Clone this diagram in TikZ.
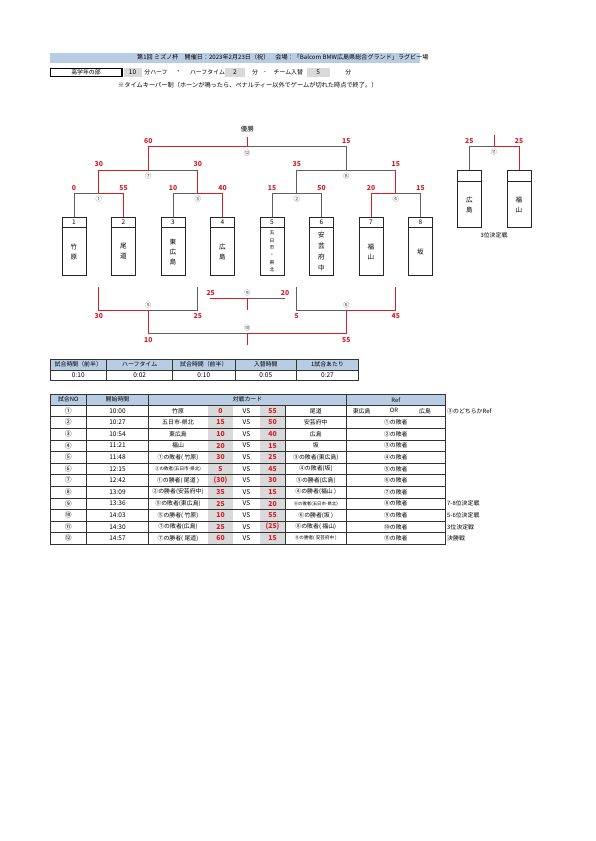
\documentclass[tikz,border=0pt]{standalone}
\usepackage{fontspec}
\setmainfont{Noto Sans CJK JP}
\usetikzlibrary{positioning}
\definecolor{hdrblue}{RGB}{184,204,228}
\definecolor{cellgray}{RGB}{217,217,217}
\definecolor{winred}{RGB}{212,30,40}
\definecolor{linegray}{RGB}{95,95,95}
\newcommand\fs[2]{\fontsize{#1}{#2}\selectfont}
\tikzset{
  gline/.style={draw=linegray, line width=0.7pt},
  rline/.style={draw=winred, line width=1pt},
  tline/.style={draw=black!80, line width=0.5pt},
  score/.style={text=winred, font=\fs{6.8}{7}\bfseries, inner sep=0pt},
  matchno/.style={text=black!70, font=\fs{6.3}{7}, inner sep=0pt},
  txt/.style={font=\fs{5.9}{7}, inner sep=0pt},
  teambox/.style={draw=black!85, line width=0.6pt, minimum width=24pt, minimum height=58pt, inner sep=0pt},
}
\begin{document}
\begin{tikzpicture}[x=1pt, y=-1pt]
		\useasboundingbox (0,0) rectangle (595,841);
		% title band
		\fill[hdrblue] (50,52.5) rectangle (420,62.5);
		\node[txt, anchor=west, font=\fs{6.1}{7}] (title) at (137,57.5) {第1回 ミズノ杯　開催日：2023年2月23日（祝）　会場：「Balcom BMW広島県総合グランド」ラグビー場};
		% division and times
		\draw[line width=0.5pt] (50,68) rectangle (122,76.5);
		\draw[line width=1.3pt] (122,68) -- (122,76.5) -- (50,76.5);
		\node[txt] (div) at (86,72.3) {高学年の部};
		\fill[cellgray] (123.5,68) rectangle (141.5,76.5);
		\fill[cellgray] (225,68) rectangle (245,76.5);
		\fill[cellgray] (306.7,68) rectangle (330,76.5);
		\node[txt, font=\fs{6.5}{7}] (half) at (132.5,72.3) {10};
		\node[txt] (halfu) at (156,72.3) {分ハーフ};
		\node[txt] (dot1) at (178.3,72.3) {・};
		\node[txt] (brk) at (207.5,72.3) {ハーフタイム};
		\node[txt, font=\fs{6.5}{7}] (brkv) at (235,72.3) {2};
		\node[txt] (brku) at (255,72.3) {分};
		\node[txt] (dot2) at (265,72.3) {-};
		\node[txt] (chg) at (288.3,72.3) {チーム入替};
		\node[txt, font=\fs{6.5}{7}] (chgv) at (318.3,72.3) {5};
		\node[txt] (chgu) at (348.3,72.3) {分};
		\node[txt, anchor=west, font=\fs{6.2}{7}] (rule) at (118,85) {※タイムキーパー制（ホーンが鳴ったら、ペナルティー以外でゲームが切れた時点で終了。）};
		% team boxes
		\foreach \i/\fz/\ls/\nm in {1/6.6/10/{竹\\原}, 2/6.6/10/{尾\\道}, 3/6.6/10/{東\\広\\島}, 4/6.6/10/{広\\島},
			5/4.8/7.3/{五\\日\\市\\・\\県\\北}, 6/6.6/11/{安\\芸\\府\\中}, 7/6.6/10/{福\\山}, 8/6.6/10/{坂}} {
			\pgfmathsetmacro\bx{74+49.5*(\i-1)}
			\node[teambox] (b\i) at (\bx,246) {};
			\draw[black!85, line width=0.6pt] ([yshift=-11pt]b\i.north west) -- ([yshift=-11pt]b\i.north east);
			\node[txt, font=\fs{6.5}{7}] (n\i) at (\bx,222.5) {\i};
			\node[txt, align=center, font=\fs{\fz}{\ls}] (t\i) at (\bx,251.5) {\nm};
		}
		% winners bracket
		\coordinate (m1) at (98.75,193.3);
		\coordinate (m3) at (197.75,193.3);
		\coordinate (m2) at (296.75,193.3);
		\coordinate (m4) at (395.75,193.3);
		\coordinate (m7) at (148.25,170);
		\coordinate (m8) at (346.25,170);
		\coordinate (m12) at (247.25,146.7);
		\coordinate (champ) at (247.25,136.5);
		\draw[gline] (b1.north) |- (m1);
		\draw[gline] (b3.north) |- (m3);
		\draw[gline] (b5.north) |- (m2) (b6.north) |- (m2) (m2) |- (m8);
		\draw[gline] (b8.north) |- (m4);
		\draw[gline] (m3 |- m7) -- (m7);
		\draw[gline] (m4 |- m8) -- (m8) |- (m12);
		\draw[rline] (b2.north) |- (m1) |- (m7) |- (m12) -- (champ);
		\draw[rline] (b4.north) |- (m3) -- (m3 |- m7);
		\draw[rline] (b7.north) |- (m4) -- (m4 |- m8);
		\node[txt, font=\fs{6.4}{7}] (champl) at (247.25,129.3) {優勝};
		% placing bracket
		\coordinate (l1) at (98.75,287.3);
		\coordinate (l3) at (197.75,287.3);
		\coordinate (l2) at (296.75,287.3);
		\coordinate (l4) at (395.75,287.3);
		\coordinate (m5) at (148.25,310);
		\coordinate (m6) at (346.25,310);
		\coordinate (m10) at (247.25,333.3);
		\coordinate (fifth) at (247.25,345);
		\coordinate (m9) at (247.25,298.3);
		\coordinate (p9a) at (210,298.3);
		\coordinate (p9b) at (285,298.3);
		\coordinate (seventh) at (247.25,310);
		\draw[gline] (l3) |- (m5);
		\draw[gline] (m5 |- m10) -- (m10);
		\draw[gline] (l2) |- (m6);
		\draw[gline] (m9) -- (p9b);
		\draw[rline] (l1) |- (m5) -- (m5 |- m10);
		\draw[rline] (l4) |- (m6) |- (m10) -- (fifth);
		\draw[rline] (p9a) -- (m9) -- (seventh);
		% 3rd place
		\foreach \i/\cx/\nm in {1/469.3/{広\\島}, 2/519/{福\\山}} {
			\node[teambox, minimum width=24.4pt, minimum height=57.7pt] (c\i) at (\cx,198.85) {};
			\draw[black!85, line width=0.6pt] ([yshift=-11.7pt]c\i.north west) -- ([yshift=-11.7pt]c\i.north east);
			\node[txt, align=center, font=\fs{6.6}{10}] (ct\i) at (\cx,205) {\nm};
		}
		\coordinate (m11) at (494,146.7);
		\coordinate (third) at (494,135);
		\draw[gline] (c1.north) |- (m11);
		\draw[rline] (c2.north) |- (m11) -- (third);
		\node[txt] (thirdl) at (494,235) {3位決定戦};
		% scores
		\foreach \k/\sx/\sy/\sv in {1/74/188/0, 2/123.5/188/55, 3/173/188/10, 4/222.5/188/40, 5/272/188/15, 6/321.5/188/50,
			7/371/188/20, 8/420.5/188/15, 9/98.75/164/30, 10/197.75/164/30, 11/296.75/164/35, 12/395.75/164/15,
			13/148.25/140.7/60, 14/346.25/140.7/15, 15/98.75/316/30, 16/197.75/316/25, 17/296.75/316/5, 18/395.75/316/45,
			19/148.25/340/10, 20/346.25/340/55, 21/210.7/293.3/25, 22/285/293.3/20, 23/469.3/140.7/25, 24/519/140.7/25} {
			\node[score] (s\k) at (\sx,\sy) {\sv};
		}
		% match numbers
		\foreach \k/\mx/\my/\mv in {1/98.75/199.3/①, 2/296.75/199.3/②, 3/197.75/199.3/③, 4/395.75/199.3/④,
			5/148.25/305/⑤, 6/346.25/305/⑥, 7/148.25/176/⑦, 8/346.25/176/⑧, 9/247.25/293.3/⑨,
			10/247.25/328.3/⑩, 11/494/152.3/⑪, 12/247.25/152.7/⑫} {
			\node[matchno] (g\k) at (\mx,\my) {\mv};
		}
		% time table
		\fill[hdrblue] (50,359.3) rectangle (358.3,370);
		\draw[tline] (50,359.3) rectangle (358.3,380.7);
		\draw[tline] (50,370) -- (358.3,370);
		\foreach \cx in {106.7,172.7,235,296.7} \draw[tline] (\cx,359.3) -- (\cx,380.7);
		\foreach \k/\cx/\hd/\vl in {1/78.3/試合時間（前半）/0:10, 2/139.7/ハーフタイム/0:02, 3/203.8/試合時間（前半）/0:10,
			4/265.8/入替時間/0:05, 5/327.5/1試合あたり/0:27} {
			\node[txt] (hd\k) at (\cx,364.7) {\hd};
			\node[txt, font=\fs{6.5}{7}] (vl\k) at (\cx,375.4) {\vl};
		}
		% schedule
		\fill[hdrblue] (50,394.5) rectangle (445,405);
		\fill[cellgray] (208,405) rectangle (233,544.2);
		\fill[cellgray] (260,405) rectangle (285,544.2);
		\draw[tline] (50,394.5) rectangle (445,544.2);
		\foreach \k in {0,...,11} \draw[tline] (50,405+11.6*\k) -- (445,405+11.6*\k);
		\foreach \cx in {86.7,148.3,346.7} \draw[tline] (\cx,394.5) -- (\cx,544.2);
		\draw[tline] (285,405) -- (285,544.2);
		\node[txt] (hno) at (68.3,399.7) {試合NO};
		\node[txt] (htm) at (117.5,399.7) {開始時間};
		\node[txt] (hcd) at (247.5,399.7) {対戦カード};
		\node[txt] (hrf) at (395.8,399.7) {Ref};
		\foreach \r/\no/\tm/\ta/\sa/\sb/\tb/\rf in {
			1/①/10:00/竹原/0/55/尾道/{},
			2/②/10:27/五日市-県北/15/50/安芸府中/①の敗者,
			3/③/10:54/東広島/10/40/広島/②の敗者,
			4/④/11:21/福山/20/15/坂/③の敗者,
			5/⑤/11:48/①の敗者( 竹原)/30/25/③の敗者(東広島)/④の敗者,
			6/⑥/12:15/{\fs{4.6}{5}②の敗者(五日市-県北)}/5/45/④の敗者(坂)/⑤の敗者,
			7/⑦/12:42/①の勝者( 尾道 )/{(30)}/30/③の勝者(広島)/⑥の敗者,
			8/⑧/13:09/②の勝者(安芸府中)/35/15/④の勝者(福山 )/⑦の敗者,
			9/⑨/13:36/⑤の敗者(東広島)/25/20/{\fs{4.4}{5}⑥の敗者(五日市-県北)}/⑧の敗者,
			10/⑩/14:03/⑤の勝者( 竹原)/10/55/⑥の勝者(坂 )/⑨の敗者,
			11/⑪/14:30/⑦の敗者(広島)/25/{(25)}/⑧の敗者( 福山)/⑩の敗者,
			12/⑫/14:57/⑦の勝者( 尾道)/60/15/{\fs{4.6}{5}⑧の勝者( 安芸府中 )}/⑪の敗者} {
			\pgfmathsetmacro\yy{410.8+11.6*(\r-1)}
			\node[txt, font=\fs{6.8}{7}] (no\r) at (68.3,\yy) {\no};
			\node[txt, font=\fs{6.5}{7}] (tm\r) at (117.5,\yy) {\tm};
			\node[txt] (ta\r) at (178,\yy) {\ta};
			\node[score] (sa\r) at (220.5,\yy) {\sa};
			\node[txt, font=\fs{6.5}{7}] (vs\r) at (246.5,\yy) {VS};
			\node[score] (sb\r) at (272.5,\yy) {\sb};
			\node[txt] (tb\r) at (315.8,\yy) {\tb};
			\node[txt] (rf\r) at (395.8,\yy) {\rf};
		}
		\node[txt] (or1) at (361.7,410.8) {東広島};
		\node[txt] (or2) at (394,410.8) {OR};
		\node[txt] (or3) at (425,410.8) {広島};
		% remarks
		\foreach \r/\rm in {1/③のどちらかRef, 9/7-8位決定戦, 10/5-6位決定戦, 11/3位決定戦, 12/決勝戦} {
			\node[txt, anchor=west] (rm\r) at (447,{410.8+11.6*(\r-1)}) {\rm};
		}
	\end{tikzpicture}
\end{document}
